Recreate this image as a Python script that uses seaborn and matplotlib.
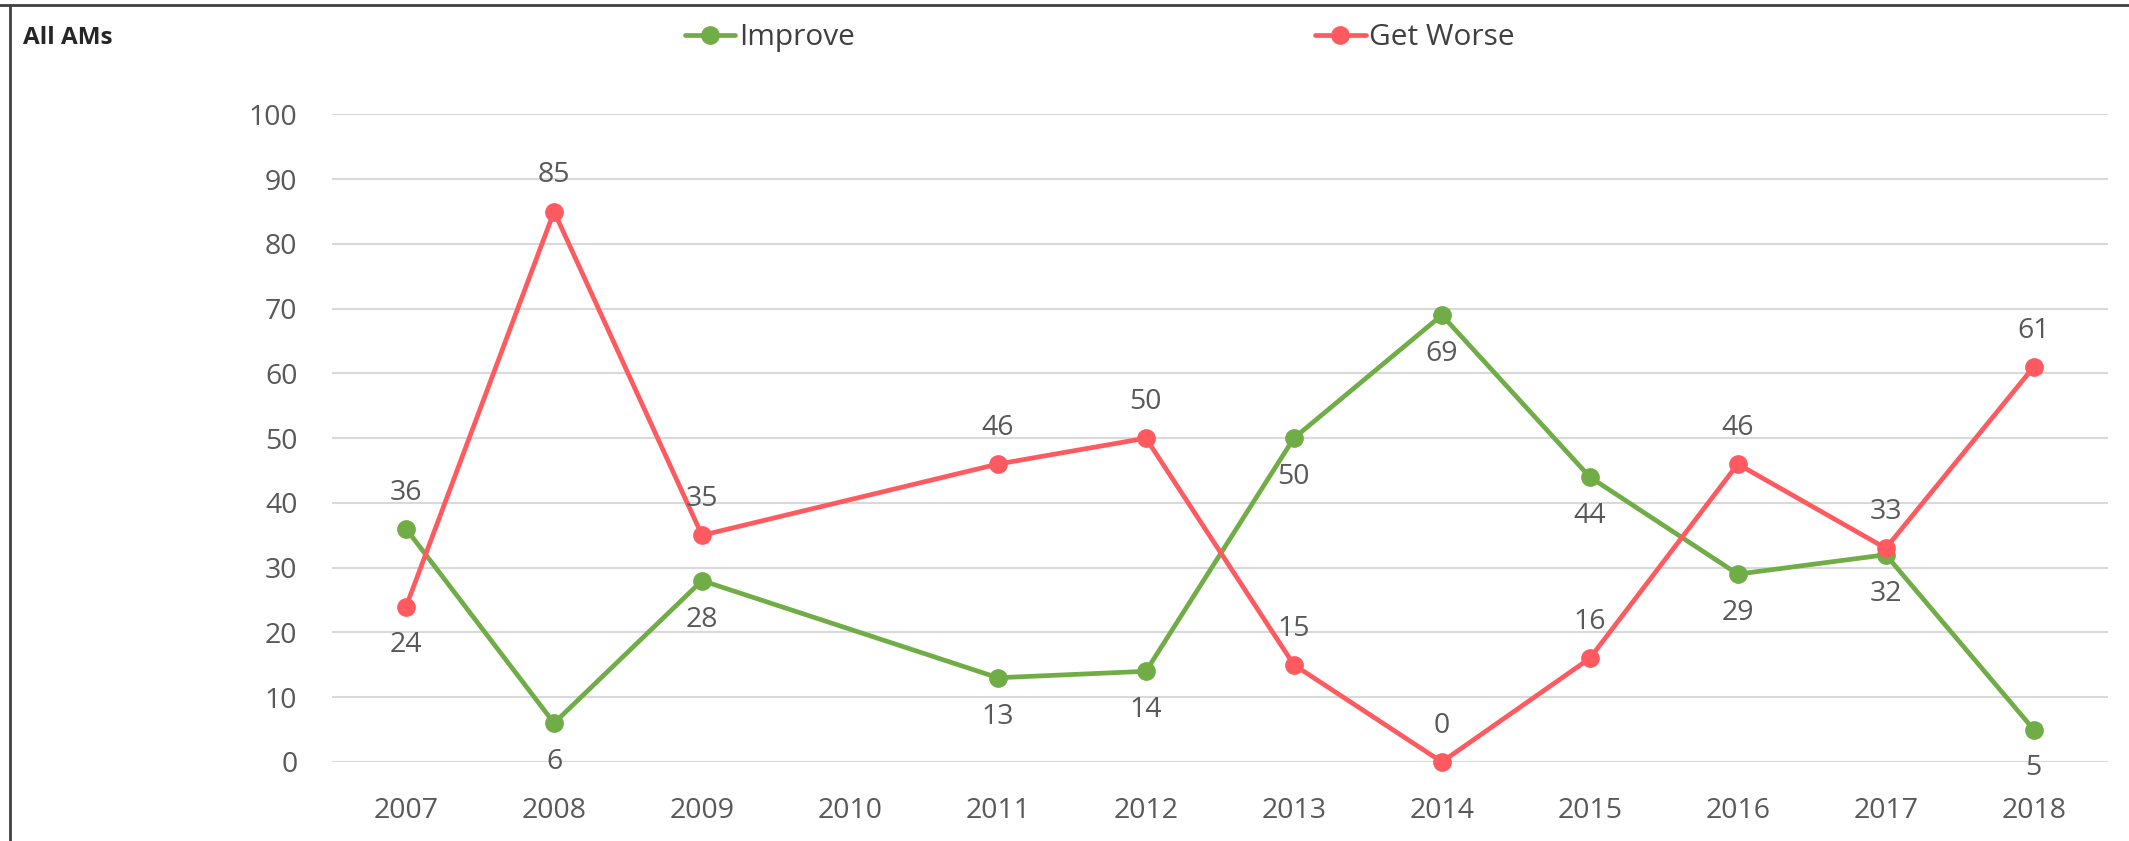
import matplotlib
matplotlib.use("Agg")
import matplotlib.pyplot as plt
import seaborn as sns
import pandas as pd
from matplotlib.lines import Line2D

years = ["2007", "2008", "2009", "2010", "2011", "2012", "2013", "2014", "2015", "2016", "2017", "2018"]
data_years = ["2007", "2008", "2009", "2011", "2012", "2013", "2014", "2015", "2016", "2017", "2018"]
improve = [36, 6, 28, 13, 14, 50, 69, 44, 29, 32, 5]
get_worse = [24, 85, 35, 46, 50, 15, 0, 16, 46, 33, 61]
improve_label_above = [True, False, False, False, False, False, False, False, False, False, False]
worse_label_above = [False, True, True, True, True, True, True, True, True, True, True]
yticks = [0, 10, 20, 30, 40, 50, 60, 70, 80, 90, 100]

GREEN = "#70AD47"
RED = "#FF5A5F"
TXT = "#595959"

sns.set_style("white")
plt.rcParams["font.family"] = ["Open Sans", "DejaVu Sans"]

pos = [years.index(y) for y in data_years]
df = pd.DataFrame({
    "x": pos + pos,
    "value": improve + get_worse,
    "series": ["Improve"] * len(pos) + ["Get Worse"] * len(pos),
})

fig = plt.figure(figsize=(21.29, 8.41), dpi=100)
ax = fig.add_axes([0.156, 0.094, 0.834, 0.770])

sns.lineplot(data=df, x="x", y="value", hue="series", style="series",
             palette={"Improve": GREEN, "Get Worse": RED},
             markers={"Improve": "o", "Get Worse": "o"}, dashes=False,
             linewidth=3.4, markersize=13.5, markeredgewidth=0,
             ax=ax, legend=False, sort=False, zorder=3, clip_on=False)

for xi, v, above in zip(pos, improve, improve_label_above):
    ax.annotate(str(v), (xi, v), xytext=(0, 26 if above else -28), textcoords="offset points",
                ha="center", va="center", fontsize=20.5, color=TXT, zorder=5)
for xi, v, above in zip(pos, get_worse, worse_label_above):
    ax.annotate(str(v), (xi, v), xytext=(0, 26 if above else -28), textcoords="offset points",
                ha="center", va="center", fontsize=20.5, color=TXT, zorder=5)

ax.set_xlim(-0.5, len(years) - 0.5)
ax.set_ylim(0, 100)
ax.set_xticks(range(len(years)))
ax.set_xticklabels(years)
ax.set_yticks(yticks)
ax.set_yticklabels([str(t) for t in yticks])
ax.tick_params(axis="both", length=0, labelsize=20.5, labelcolor=TXT, pad=25)
ax.grid(axis="y", color="#D9D9D9", linewidth=1.5)
ax.grid(axis="x", visible=False)
ax.set_axisbelow(True)
for s in ax.spines.values():
    s.set_visible(False)
ax.set_xlabel("")
ax.set_ylabel("")

handles = [Line2D([], [], color=GREEN, lw=3.4, marker="o", markersize=13.5, markeredgewidth=0),
           Line2D([], [], color=RED, lw=3.4, marker="o", markersize=13.5, markeredgewidth=0)]
fig.legend(handles, ["Improve", "Get Worse"], loc="center left", bbox_to_anchor=(0.309, 0.955),
           ncol=2, frameon=False, fontsize=21.5, handlelength=1.7, handletextpad=0.12,
           columnspacing=15.4, labelcolor="#404040")

fig.text(0.011, 0.955, "All AMs", fontsize=17.5, fontweight="bold", color="#262626", va="center", ha="left")

# outer border (top and left)
fig.add_artist(Line2D([0, 1], [0.994, 0.994], transform=fig.transFigure, color="#404040", lw=2))
fig.add_artist(Line2D([0.0045, 0.0045], [0, 0.994], transform=fig.transFigure, color="#404040", lw=2))

fig.savefig("out.png", dpi=100)
